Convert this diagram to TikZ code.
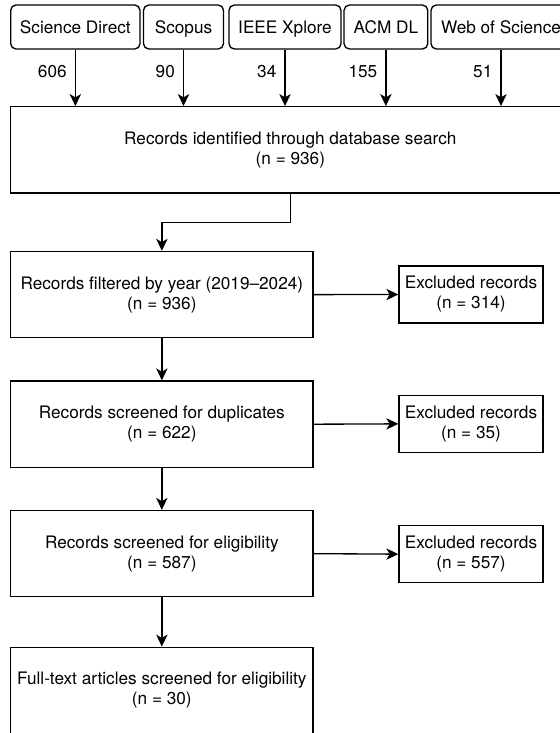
\documentclass[tikz,border=0pt]{standalone}
\usepackage{fontspec}
\setmainfont{TeX Gyre Heros}
\usetikzlibrary{arrows.meta}

\begin{document}
\begin{tikzpicture}[x=0.75pt, y=-0.75pt, line width=1pt,
	font=\fontsize{12.9pt}{15pt}\selectfont,
	fonte/.style={draw, rounded corners=4pt, minimum height=33pt, inner sep=0pt, text height=9.3pt, text depth=0pt},
	blocco/.style={draw, align=center, minimum width=226.7pt, minimum height=64.65pt, inner sep=0pt},
	escluso/.style={draw, align=center, minimum width=108pt, minimum height=42.75pt, inner sep=0pt},
	freccia/.style={-{Stealth[length=9pt, width=8.5pt, inset=2.5pt]}},
	num/.style={left, pos=0.38, inner sep=0pt, xshift=-6pt}]
	\useasboundingbox (0,0) rectangle (560,733);
	\clip (0,0) rectangle (560,733);
	
	% fonti
	\node[fonte, minimum width=97pt] (sd) at (75.35,27) {Science Direct};
	\node[fonte, minimum width=60pt] (sc) at (183.5,27) {Scopus};
	\node[fonte, minimum width=84pt] (ie) at (285,27) {IEEE Xplore};
	\node[fonte, minimum width=62.75pt] (acm) at (385.9,27) {ACM DL};
	\node[fonte, minimum width=105pt] (wos) at (501,27) {Web of Science};
	
	\node[draw, align=center, minimum width=419.5pt, minimum height=64.7pt, inner sep=0pt] (db) at (290.35,149.85) {Records identified through database search\\(n = 936)};
	
	\draw[freccia] (sd.south) -- node[num] {606} (sd.south |- db.north);
	\draw[freccia] (sc.south) -- node[num] {90} (sc.south |- db.north);
	\draw[freccia] (ie.south) -- node[num] {34} (ie.south |- db.north);
	\draw[freccia] (acm.south) -- node[num] {155} (acm.south |- db.north);
	\draw[freccia] (wos.south) -- node[num] {51} (wos.south |- db.north);
	
	% blocchi
	\node[blocco] (anno) at (161.85,294.6) {Records filtered by year (2019--2024)\\(n = 936)};
	\node[blocco] (dup) at (161.85,424.2) {Records screened for duplicates\\(n = 622)};
	\node[blocco] (elig) at (161.85,553.65) {Records screened for eligibility\\(n = 587)};
	\node[blocco] (full) at (161.85,690.4) {Full-text articles screened for eligibility\\(n = 30)};
	
	% esclusi
	\node[escluso] (ex1) at (471,294.5) {Excluded records\\(n = 314)};
	\node[escluso] (ex2) at (471,423.85) {Excluded records\\(n = 35)};
	\node[escluso] (ex3) at (471,554.15) {Excluded records\\(n = 557)};
	
	\draw[freccia] (db.south) -- ++(0,29) -| (anno.north);
	\draw[freccia] (anno) -- (dup);
	\draw[freccia] (dup) -- (elig);
	\draw[freccia] (elig) -- (full);
	\draw[freccia] (anno.east) -- (ex1.west);
	\draw[freccia] (dup.east) -- (ex2.west);
	\draw[freccia] (elig.east) -- (ex3.west);
\end{tikzpicture}
\end{document}
